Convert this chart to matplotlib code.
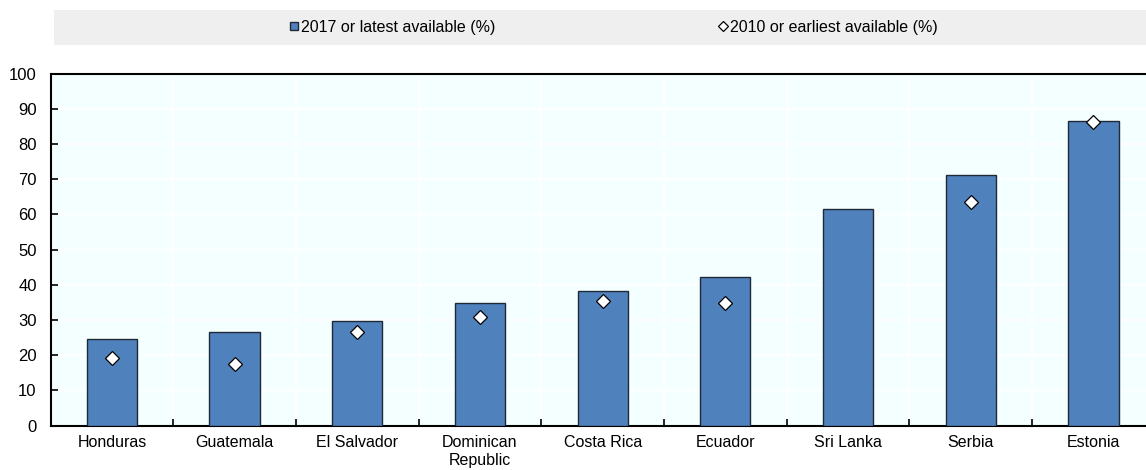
import numpy as np
import matplotlib
matplotlib.use("Agg")
import matplotlib.pyplot as plt
from matplotlib.lines import Line2D
from matplotlib.patches import Rectangle

plt.rcParams['font.family'] = ['Liberation Sans Narrow', 'Liberation Sans', 'DejaVu Sans']

countries = ["Honduras", "Guatemala", "El Salvador", "Dominican\nRepublic",
             "Costa Rica", "Ecuador", "Sri Lanka", "Serbia", "Estonia"]
latest_2017 = [24.6, 26.6, 29.7, 34.8, 38.2, 42.2, 61.7, 71.2, 86.7]
earliest_2010 = [19.2, 17.6, 26.6, 30.9, 35.5, 34.8, np.nan, 63.5, 86.4]

label_latest = "2017 or latest available (%)"
label_earliest = "2010 or earliest available (%)"
yticks = list(range(0, 101, 10))

bar_color = "#4F81BD"
edge_color = "#1F2A36"
plot_bg = "#F4FFFF"
band_color = "#EFEFEF"
fs = 11.5

W, H = 1146, 470
fig = plt.figure(figsize=(W / 100, H / 100), dpi=100)

# Plot area (the right edge runs slightly past the canvas)
ax_left, ax_right = 50.6, 1154.7
ax_top, ax_bottom = 73.8, 425.5
ax = fig.add_axes([ax_left / W, 1 - ax_bottom / H,
                   (ax_right - ax_left) / W, (ax_bottom - ax_top) / H])
ax.set_facecolor(plot_bg)

x = np.arange(len(countries))
ax.bar(x, latest_2017, width=0.41, color=bar_color, edgecolor=edge_color,
       linewidth=1.0, zorder=3)
ax.plot(x, earliest_2010, linestyle="none", marker="D", markersize=7.6,
        markerfacecolor="white", markeredgecolor="black",
        markeredgewidth=0.9, zorder=4)

ax.set_xlim(-0.5, len(countries) - 0.5)
ax.set_ylim(0, 100)
ax.set_yticks(yticks)
ax.set_yticklabels([str(v) for v in yticks], fontsize=fs + 0.5)

ax.set_xticks(x)
ax.set_xticklabels(countries, fontsize=fs, linespacing=1.25)
ax.set_xticks(np.arange(0.5, len(countries) - 0.5, 1), minor=True)
ax.tick_params(axis="x", which="major", length=0, pad=7)
ax.tick_params(axis="x", which="minor", direction="in", length=5, width=1.2)
ax.tick_params(axis="y", which="major", direction="in", length=5, width=1.2, pad=10)

# White gridlines at every tenth and between the categories
ax.grid(axis="y", color="white", linewidth=1.2, zorder=0)
ax.grid(axis="x", which="minor", color="white", linewidth=1.2, zorder=0)
ax.set_axisbelow(True)

for side in ("left", "bottom", "top"):
    ax.spines[side].set_linewidth(1.5)
    ax.spines[side].set_color("black")
ax.spines["right"].set_visible(False)

# Legend band across the top
fig.patches.append(Rectangle((54 / W, 1 - 45 / H), (W - 54) / W, 35.5 / H,
                             transform=fig.transFigure, facecolor=band_color,
                             edgecolor="none", zorder=0))

h_latest = Line2D([], [], linestyle="none", marker="s", markersize=6.0,
                  markerfacecolor=bar_color, markeredgecolor=edge_color,
                  markeredgewidth=1.0)
h_earliest = Line2D([], [], linestyle="none", marker="D", markersize=5.0,
                    markerfacecolor="white", markeredgecolor="black",
                    markeredgewidth=0.9)

for handle, label, xpos in ((h_latest, label_latest, 288),
                            (h_earliest, label_earliest, 717)):
    fig.legend([handle], [label], loc="center left",
               bbox_to_anchor=(xpos / W, 1 - 27.5 / H),
               frameon=False, fontsize=fs, handlelength=0.7,
               handletextpad=0.12, borderpad=0, borderaxespad=0)

fig.savefig("out.png", dpi=100)
